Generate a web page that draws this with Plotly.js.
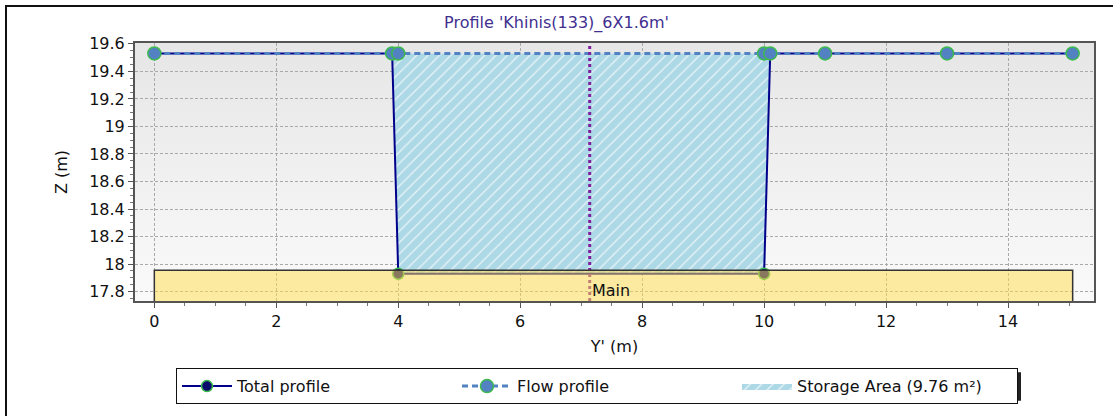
<!DOCTYPE html>
<html>
<head>
<meta charset="utf-8">
<script src="https://cdn.plot.ly/plotly-3.0.1.min.js"></script>
<style>
  html, body { margin: 0; padding: 0; background: #ffffff; }
  #wrap { position: relative; width: 1113px; height: 416px; overflow: hidden; }
  #chart { position: absolute; left: 0; top: 0; width: 1113px; height: 416px; }
  #frame { position: absolute; left: 5px; top: 5px; width: 1120px; height: 430px;
           border-top: 2px solid #111; border-left: 2px solid #111; pointer-events: none; }
</style>
</head>
<body>
<div id="wrap"><div id="chart"></div><div id="frame"></div></div>
<script>
// ---- data ----
const chartTitle = "Profile 'Khinis(133)_6X1.6m'";
const xTitle = "Y' (m)";
const yTitle = "Z (m)";

const totalX = [0, 3.9, 4.0, 10.0, 10.1, 11, 13, 15.06];
const totalZ = [19.53, 19.53, 17.93, 17.93, 19.53, 19.53, 19.53, 19.53];

const flowX = [0, 3.9, 4.0, 10.0, 10.1, 11, 13, 15.06];
const flowZ = [19.53, 19.53, 19.53, 19.53, 19.53, 19.53, 19.53, 19.53];

const storageX = [3.9, 4.0, 10.0, 10.1];
const storageZ = [19.53, 17.93, 17.93, 19.53];
const storageArea = 9.76;

const mainStartX = 0;
const mainEndX = 15.06;
const mainTopZ = 17.955;
const mainLabel = "Main";
const stationX = 7.14;

const xTicks = [0, 2, 4, 6, 8, 10, 12, 14];
const yTicks = [17.8, 18, 18.2, 18.4, 18.6, 18.8, 19, 19.2, 19.4, 19.6];
const xRange = [-0.317, 15.41];
const yRange = [17.732, 19.606];

// ---- styling ----
const font = "DejaVu Sans, Verdana, sans-serif";
const gradSvg = "data:image/svg+xml;utf8," + encodeURIComponent(
  "<svg xmlns='http://www.w3.org/2000/svg' width='100' height='100' preserveAspectRatio='none'>" +
  "<defs><linearGradient id='g' x1='0' y1='0' x2='0' y2='1'>" +
  "<stop offset='0' stop-color='#E6E6E6'/><stop offset='1' stop-color='#FAFAFA'/></linearGradient></defs>" +
  "<rect width='100' height='100' fill='url(#g)'/></svg>");

const traces = [
  {
    type: 'scatter', mode: 'lines', name: 'Storage Area (' + storageArea + ' m²)',
    x: storageX, y: storageZ, fill: 'toself',
    line: { width: 0, color: 'rgba(0,0,0,0)' },
    fillcolor: '#ADD8E6',
    fillpattern: { shape: '/', bgcolor: '#ADD8E6', fgcolor: '#E4F2F7', size: 8, solidity: 0.18 },
    hoverinfo: 'skip', legendrank: 3
  },
  {
    type: 'scatter', mode: 'lines+markers', name: 'Total profile',
    x: totalX, y: totalZ, legendrank: 1,
    line: { color: '#00008B', width: 2 },
    marker: { size: 11, color: '#0A0A6E', line: { color: '#3DBA4E', width: 1.5 } }
  },
  {
    type: 'scatter', mode: 'lines+markers', name: 'Flow profile',
    x: flowX, y: flowZ, legendrank: 2,
    line: { color: '#5282C2', width: 3, dash: '6px,4px' },
    marker: { size: 13, color: '#5282C2', line: { color: '#3DBA4E', width: 1.5 } }
  }
];

const L = 135, R = 1094, T = 43, B = 304;
const pw = R - L, ph = B - T;
const px = v => (v - L) / pw;
const py = v => (B - v) / ph;

const tickFont = { family: font, size: 16, color: '#111' };

const layout = {
  width: 1113, height: 416,
  margin: { l: L, r: 1113 - R, t: T, b: 416 - B, pad: 0 },
  paper_bgcolor: 'rgba(0,0,0,0)',
  plot_bgcolor: 'rgba(0,0,0,0)',
  font: { family: font, size: 16, color: '#111' },
  title: { text: chartTitle, font: { family: font, size: 16, color: '#3F2F8F' },
           x: 0.5, xanchor: 'center', xref: 'container', y: 1 - 22 / 416, yanchor: 'middle' },
  xaxis: {
    range: xRange, tickvals: xTicks, ticktext: xTicks.map(String),
    showgrid: true, gridcolor: '#A9A9A9', gridwidth: 1, griddash: '3px,2px',
    zeroline: false, showline: true, linecolor: '#555', linewidth: 2, mirror: true,
    ticks: 'outside', ticklen: 5, tickcolor: '#555', tickwidth: 1,
    minor: { dtick: 0.5, ticks: 'outside', ticklen: 3, tickcolor: '#777', showgrid: false },
    tickfont: tickFont,
    title: { text: xTitle, font: tickFont, standoff: 11 }
  },
  yaxis: {
    range: yRange, tickvals: yTicks, ticktext: yTicks.map(String),
    showgrid: true, gridcolor: '#A9A9A9', gridwidth: 1, griddash: '3px,2px',
    zeroline: false, showline: true, linecolor: '#555', linewidth: 2, mirror: true,
    ticks: 'outside', ticklen: 5, tickcolor: '#555', tickwidth: 1,
    minor: { dtick: 0.05, ticks: 'outside', ticklen: 3, tickcolor: '#777', showgrid: false },
    tickfont: tickFont,
    title: { text: yTitle, font: tickFont, standoff: 18 }
  },
  images: [{ source: gradSvg, xref: 'paper', yref: 'paper', x: 0, y: 1, sizex: 1, sizey: 1,
             sizing: 'stretch', layer: 'below', xanchor: 'left', yanchor: 'top' }],
  shapes: [
    { type: 'line', xref: 'x', yref: 'paper', x0: stationX, x1: stationX, y0: 0, y1: 1,
      line: { color: '#7D1E9E', width: 3, dash: 'dot' }, layer: 'above' },
    { type: 'rect', xref: 'x', yref: 'y', x0: mainStartX, x1: mainEndX, y0: yRange[0] - 0.1, y1: mainTopZ,
      fillcolor: 'rgba(255,220,80,0.52)', line: { color: '#333', width: 1.5 }, layer: 'above' },
    // legend shadow
    { type: 'rect', xref: 'paper', yref: 'paper', x0: px(180), x1: px(1021), y0: py(405), y1: py(376),
      fillcolor: '#222', line: { width: 0 }, layer: 'below' }
  ],
  annotations: [
    { xref: 'x', yref: 'y', x: stationX, y: 17.805, text: mainLabel, showarrow: false,
      xanchor: 'left', yanchor: 'middle', xshift: 0, font: tickFont }
  ],
  showlegend: true,
  legend: {
    orientation: 'h', x: px(176), xanchor: 'left', y: py(372), yanchor: 'top',
    bgcolor: '#ffffff', bordercolor: '#111', borderwidth: 1,
    font: { family: font, size: 16, color: '#111' },
    entrywidth: 215, entrywidthmode: 'pixels', traceorder: 'normal', itemwidth: 50
  }
};

Plotly.newPlot('chart', traces, layout, { displayModeBar: false, staticPlot: true });
</script>
</body>
</html>
